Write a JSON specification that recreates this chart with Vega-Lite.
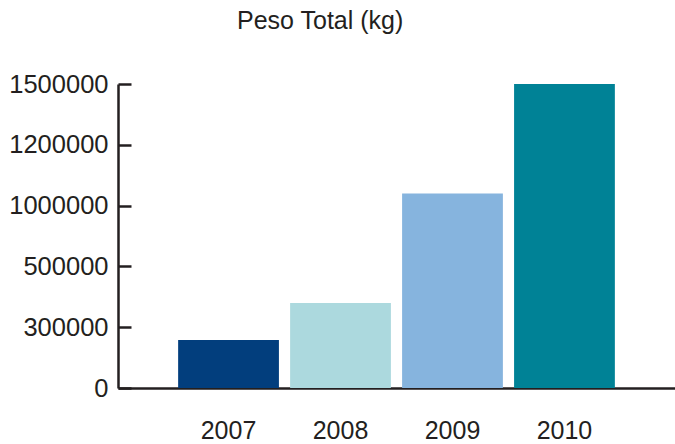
{
  "$schema": "https://vega.github.io/schema/vega-lite/v6.json",
  "width": 557,
  "height": 304,
  "autosize": {"type": "none"},
  "padding": {"left": 118, "top": 84, "right": 0, "bottom": 56},
  "background": "white",
  "title": {
    "text": "Peso Total (kg)",
    "anchor": "start",
    "frame": "group",
    "dx": 119,
    "offset": 38,
    "font": "Liberation Sans",
    "fontSize": 25,
    "fontWeight": "normal",
    "color": "#231f20"
  },
  "data": {
    "values": [
      {"year": "2007", "peso": 237000},
      {"year": "2008", "peso": 380000},
      {"year": "2009", "peso": 1040000},
      {"year": "2010", "peso": 1500000}
    ]
  },
  "mark": {"type": "bar"},
  "encoding": {
    "x": {
      "field": "year",
      "type": "ordinal",
      "scale": {"paddingInner": 0.1, "paddingOuter": 0.537},
      "axis": {
        "title": null,
        "labelAngle": 0,
        "ticks": false,
        "domainColor": "#231f20",
        "domainWidth": 2.5,
        "labelPadding": 30,
        "labelFont": "Liberation Sans",
        "labelFontSize": 25,
        "labelColor": "#231f20"
      }
    },
    "y": {
      "field": "peso",
      "type": "quantitative",
      "scale": {
        "domain": [0, 300000, 500000, 1000000, 1200000, 1500000],
        "range": [304, 243.2, 182.4, 121.6, 60.8, 0]
      },
      "axis": {
        "title": null,
        "grid": false,
        "values": [0, 300000, 500000, 1000000, 1200000, 1500000],
        "format": "d",
        "tickSize": -13,
        "tickWidth": 2.5,
        "tickColor": "#231f20",
        "domainColor": "#231f20",
        "domainWidth": 2.5,
        "labelPadding": 23,
        "labelFont": "Liberation Sans",
        "labelFontSize": 25.5,
        "labelColor": "#231f20"
      }
    },
    "color": {
      "field": "year",
      "type": "nominal",
      "scale": {"range": ["#023e7d", "#acd9de", "#86b4de", "#008296"]},
      "legend": null
    }
  },
  "config": {"view": {"stroke": null}}
}
